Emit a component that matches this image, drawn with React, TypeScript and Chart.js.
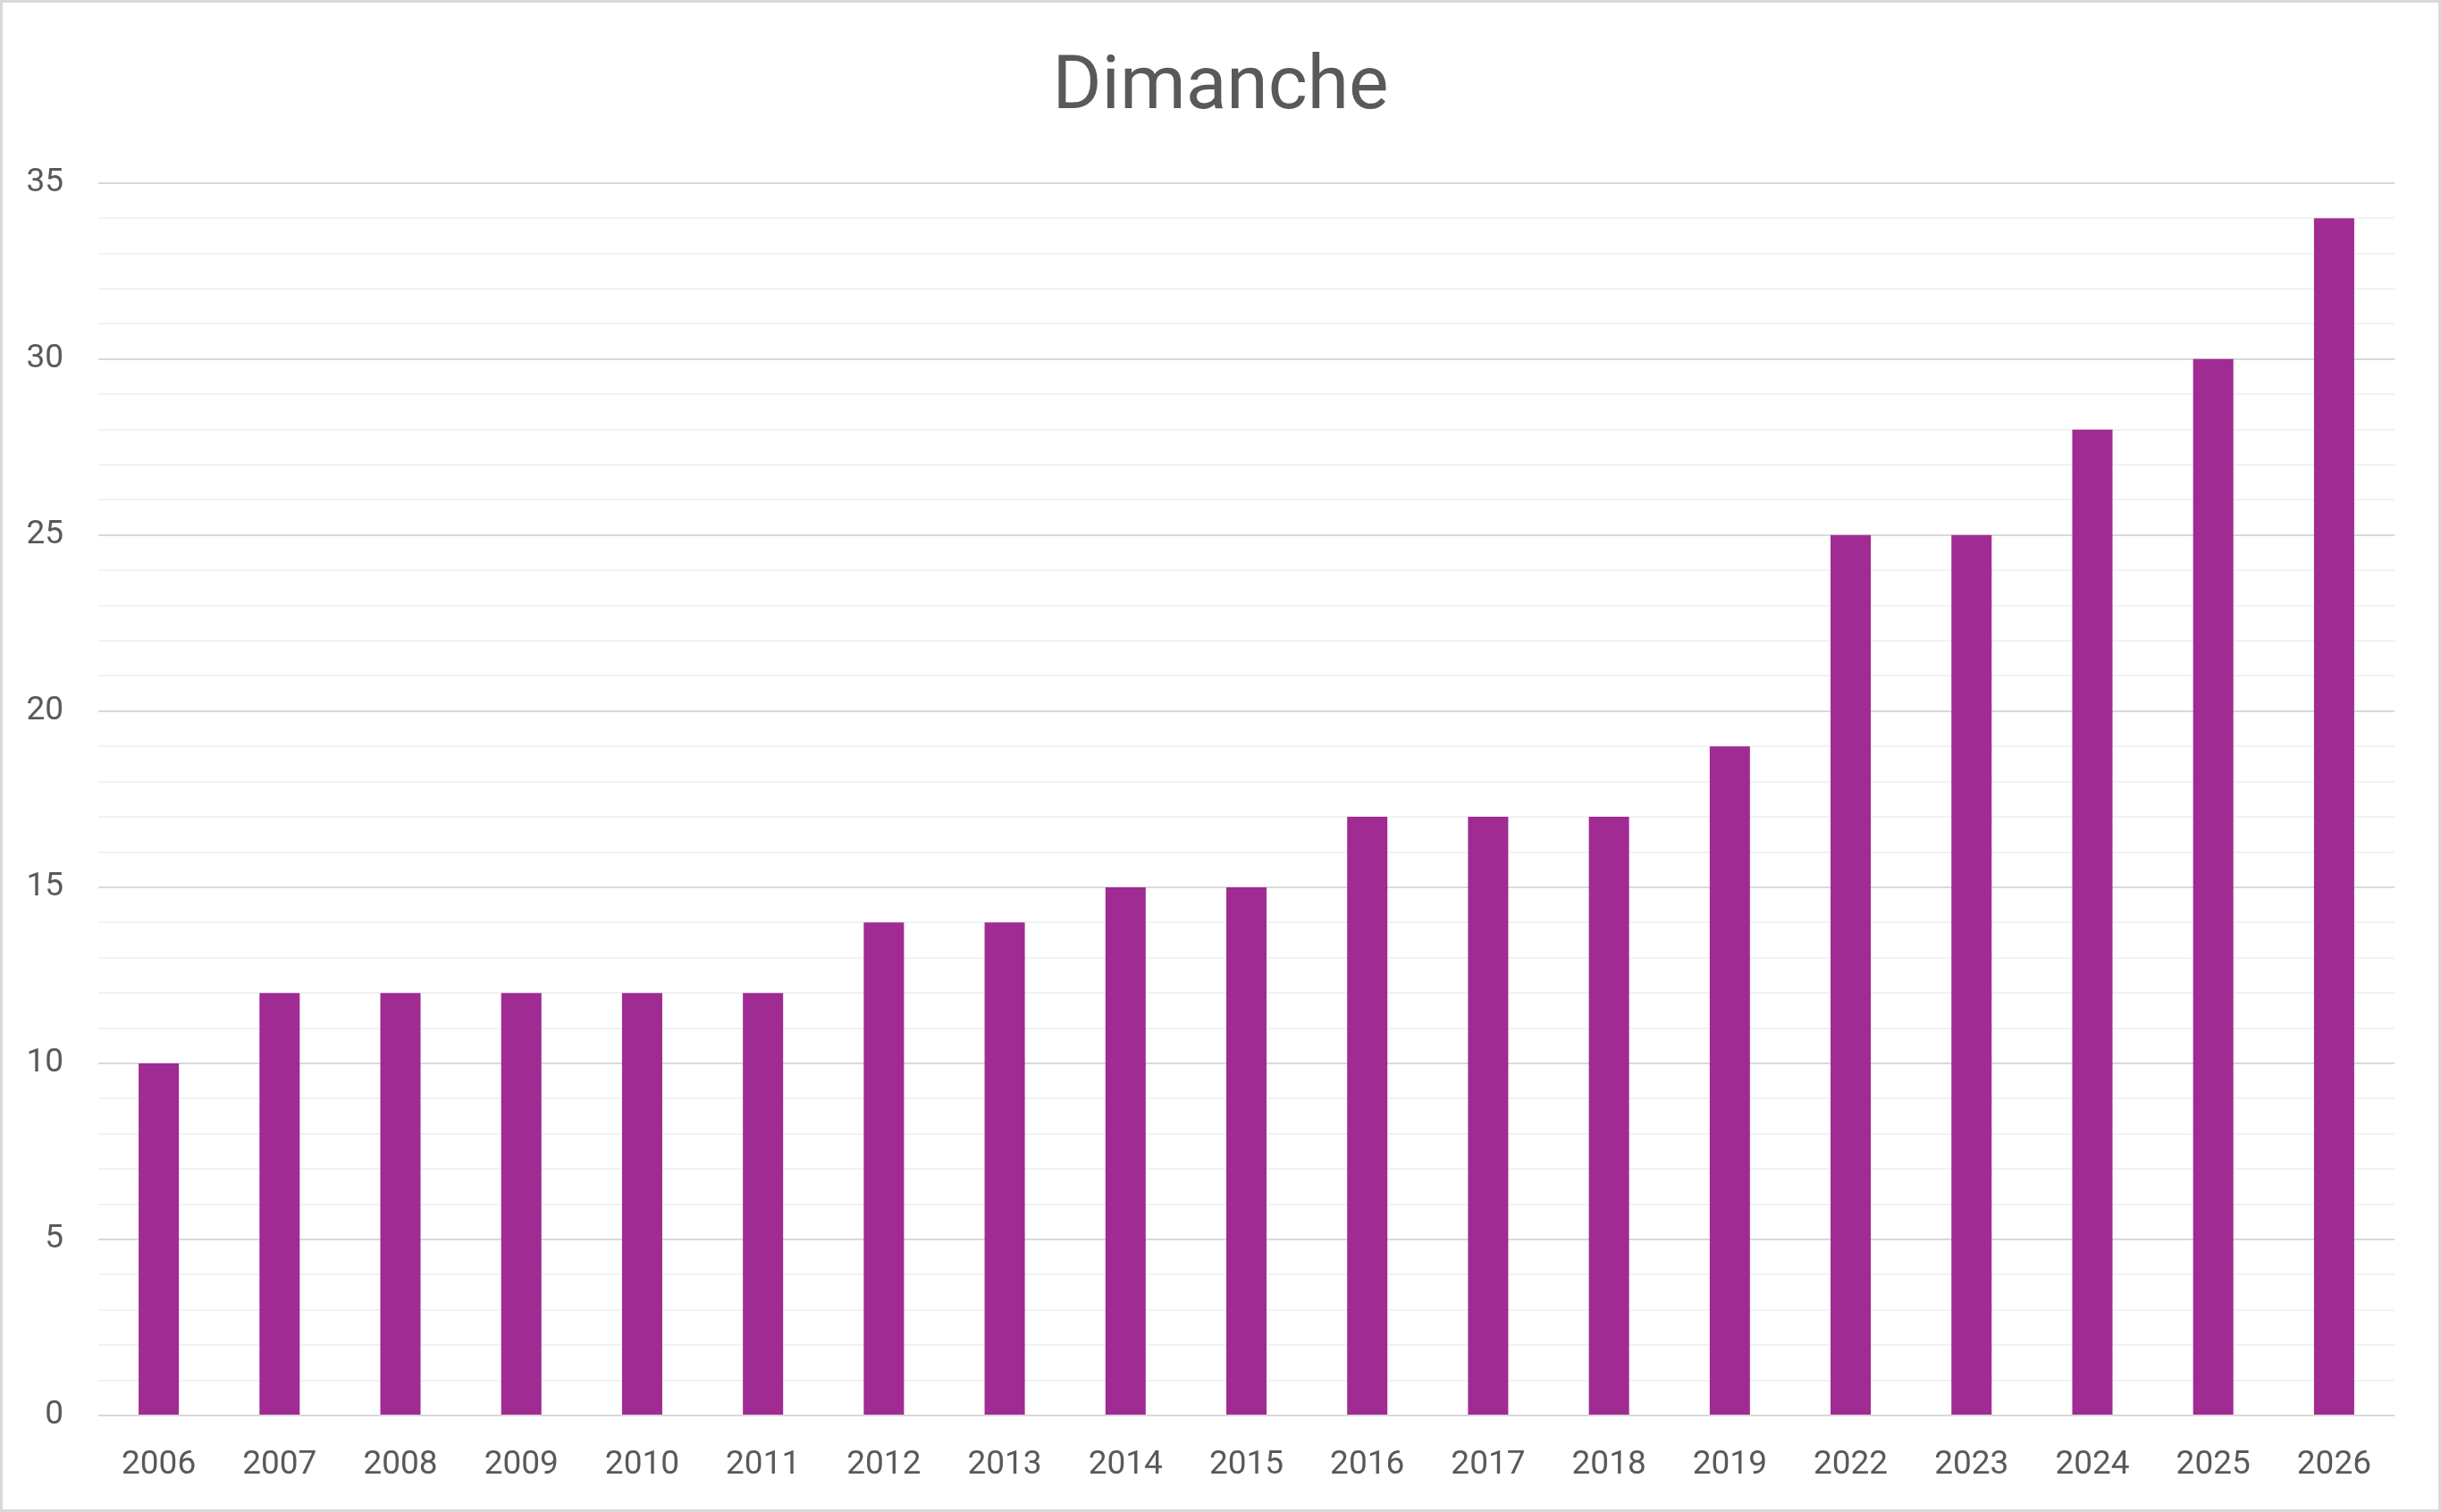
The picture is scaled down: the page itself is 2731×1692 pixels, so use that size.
import { useEffect, useRef } from "react";
import { Chart, registerables } from "chart.js";

Chart.register(...registerables);

const title = "Dimanche";
const years = [
  "2006", "2007", "2008", "2009", "2010", "2011", "2012", "2013", "2014", "2015",
  "2016", "2017", "2018", "2019", "2022", "2023", "2024", "2025", "2026",
];
const counts = [10, 12, 12, 12, 12, 12, 14, 14, 15, 15, 17, 17, 17, 19, 25, 25, 28, 30, 34];
const yMax = 35;
const yLabelStep = 5;

const textColor = "#595959";
const barColor = "#A02B93";

export default function App() {
  const canvasRef = useRef<HTMLCanvasElement>(null);
  const chartRef = useRef<Chart | null>(null);

  useEffect(() => {
    if (!canvasRef.current) return;
    chartRef.current?.destroy();

    chartRef.current = new Chart(canvasRef.current, {
      type: "bar",
      data: {
        labels: years,
        datasets: [
          {
            label: title,
            data: counts,
            backgroundColor: barColor,
            borderWidth: 0,
            barPercentage: 0.333,
            categoryPercentage: 1,
          },
        ],
      },
      options: {
        animation: false,
        responsive: false,
        maintainAspectRatio: false,
        layout: { padding: 0 },
        plugins: {
          legend: { display: false },
          tooltip: { enabled: false },
          title: {
            display: true,
            text: title,
            color: textColor,
            font: { family: "Roboto", size: 84, weight: "normal" },
            padding: { top: 47, bottom: 54 },
          },
        },
        scales: {
          x: {
            offset: true,
            grid: { display: false },
            border: { display: false },
            afterFit: (s: any) => {
              s.height = 105;
            },
            ticks: {
              color: textColor,
              font: { family: "Roboto", size: 37 },
              padding: 26,
              maxRotation: 0,
              autoSkip: false,
            },
          },
          y: {
            min: 0,
            max: yMax,
            border: { display: false },
            afterFit: (s: any) => {
              s.width = 107;
            },
            grid: {
              drawTicks: false,
              lineWidth: 2,
              color: (ctx: any) =>
                ctx.tick && ctx.tick.value % yLabelStep === 0 ? "#d9d9d9" : "#f2f2f2",
            },
            ticks: {
              stepSize: 1,
              autoSkip: false,
              color: textColor,
              font: { family: "Roboto", size: 37 },
              padding: 39,
              callback: (v: any) => (Number(v) % yLabelStep === 0 ? String(v) : ""),
            },
          },
          // empty right-hand spacer so the plot ends short of the frame
          // while the title stays centred on the whole canvas
          spacer: {
            type: "linear",
            position: "right",
            grid: { display: false },
            border: { display: false },
            ticks: { display: false },
            afterFit: (s: any) => {
              s.width = 49;
            },
          },
        },
      },
    });

    return () => {
      chartRef.current?.destroy();
      chartRef.current = null;
    };
  }, []);

  return (
    <div
      style={{
        position: "absolute",
        left: 0,
        top: 0,
        width: 2731,
        height: 1692,
        boxSizing: "border-box",
        border: "3px solid #d9d9d9",
        background: "#ffffff",
      }}
    >
      <canvas ref={canvasRef} width={2725} height={1686} style={{ display: "block" }} />
    </div>
  );
}
